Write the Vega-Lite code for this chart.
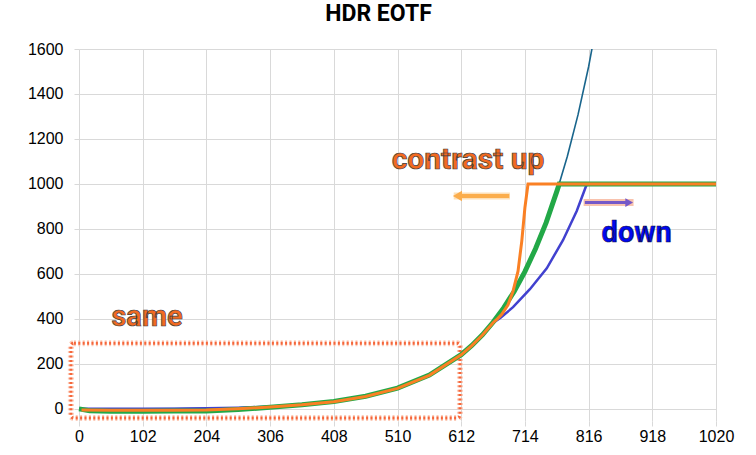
{
  "$schema": "https://vega.github.io/schema/vega-lite/v6.json",
  "width": 637,
  "height": 372,
  "autosize": {"type": "none"},
  "padding": {"left": 79, "top": 49, "right": 40, "bottom": 34},
  "background": "#ffffff",
  "title": {
    "text": "HDR EOTF",
    "font": "Roboto",
    "fontSize": 23,
    "fontWeight": "bold",
    "color": "#000000",
    "anchor": "middle",
    "frame": "group",
    "dx": -19,
    "offset": 15
  },
  "config": {
    "view": {"stroke": null},
    "axis": {
      "grid": true,
      "gridColor": "#d9d9d9",
      "gridWidth": 1,
      "tickColor": "#d9d9d9",
      "tickSize": 5,
      "domain": false,
      "labelFont": "Liberation Sans",
      "labelFontSize": 16,
      "labelColor": "#000000",
      "title": null,
      "format": "d"
    }
  },
  "datasets": {
    "teal": [
      {"x": 0, "y": 0}, {"x": 51, "y": 0}, {"x": 102, "y": 0.3}, {"x": 153, "y": 1}, {"x": 204, "y": 2.4},
      {"x": 255, "y": 5}, {"x": 306, "y": 10}, {"x": 357, "y": 18}, {"x": 408, "y": 32}, {"x": 459, "y": 55},
      {"x": 510, "y": 91}, {"x": 561, "y": 149}, {"x": 612, "y": 240}, {"x": 629, "y": 281}, {"x": 646, "y": 328},
      {"x": 663, "y": 384}, {"x": 680, "y": 448}, {"x": 697, "y": 522}, {"x": 714, "y": 609}, {"x": 731, "y": 711},
      {"x": 748, "y": 827}, {"x": 765, "y": 964}, {"x": 782, "y": 1123}, {"x": 799, "y": 1307}, {"x": 816, "y": 1521},
      {"x": 833, "y": 1774}
    ],
    "blue": [
      {"x": 0, "y": 0}, {"x": 51, "y": 0}, {"x": 102, "y": 0.3}, {"x": 153, "y": 1}, {"x": 204, "y": 2.4},
      {"x": 255, "y": 5}, {"x": 306, "y": 10}, {"x": 357, "y": 18}, {"x": 408, "y": 32}, {"x": 459, "y": 55},
      {"x": 510, "y": 91}, {"x": 561, "y": 149}, {"x": 612, "y": 240}, {"x": 629, "y": 281}, {"x": 646, "y": 328},
      {"x": 663, "y": 382}, {"x": 675, "y": 405},
      {"x": 695, "y": 452}, {"x": 722, "y": 532}, {"x": 749, "y": 625}, {"x": 775, "y": 750}, {"x": 797, "y": 880},
      {"x": 812, "y": 991}, {"x": 815, "y": 1000}, {"x": 1020, "y": 1000}
    ],
    "green": [
      {"x": 0, "y": 0}, {"x": 17, "y": -8}, {"x": 51, "y": -11}, {"x": 102, "y": -11}, {"x": 153, "y": -10},
      {"x": 204, "y": -9}, {"x": 255, "y": -3}, {"x": 306, "y": 7}, {"x": 357, "y": 18}, {"x": 408, "y": 33},
      {"x": 459, "y": 56}, {"x": 510, "y": 92}, {"x": 561, "y": 150}, {"x": 612, "y": 241}, {"x": 629, "y": 282},
      {"x": 646, "y": 329}, {"x": 663, "y": 385}, {"x": 680, "y": 449}, {"x": 697, "y": 523}, {"x": 714, "y": 610},
      {"x": 731, "y": 712}, {"x": 748, "y": 828}, {"x": 765, "y": 966}, {"x": 769, "y": 1000}, {"x": 1020, "y": 1000}
    ],
    "orange": [
      {"x": 4, "y": -5}, {"x": 51, "y": -6}, {"x": 102, "y": -6}, {"x": 153, "y": -6}, {"x": 204, "y": -5},
      {"x": 255, "y": 0}, {"x": 306, "y": 8}, {"x": 357, "y": 18}, {"x": 408, "y": 32}, {"x": 459, "y": 55},
      {"x": 510, "y": 91}, {"x": 561, "y": 149}, {"x": 612, "y": 240}, {"x": 629, "y": 281}, {"x": 646, "y": 328},
      {"x": 663, "y": 383}, {"x": 670, "y": 400}, {"x": 677, "y": 420}, {"x": 687, "y": 463}, {"x": 695, "y": 523},
      {"x": 703, "y": 612}, {"x": 709, "y": 746}, {"x": 714, "y": 894}, {"x": 719, "y": 1000}, {"x": 1020, "y": 1000}
    ],
    "one": [{"k": 1}]
  },
  "layer": [
    {
      "data": {"name": "teal"},
      "mark": {"type": "line", "color": "#19658c", "strokeWidth": 1.6, "clip": true},
      "encoding": {
        "x": {
          "field": "x",
          "type": "quantitative",
          "scale": {"domain": [0, 1020], "nice": false, "zero": false},
          "axis": {"values": [0, 102, 204, 306, 408, 510, 612, 714, 816, 918, 1020], "labelPadding": 2, "labelFlush": false}
        },
        "y": {
          "field": "y",
          "type": "quantitative",
          "scale": {"domain": [-54, 1600], "nice": false, "zero": false},
          "axis": {"values": [0, 200, 400, 600, 800, 1000, 1200, 1400, 1600], "labelPadding": 11}
        }
      }
    },
    {
      "data": {"name": "one"},
      "mark": {"type": "rect", "fill": null, "stroke": "#fbbfa8", "strokeWidth": 6, "cornerRadius": 3, "strokeDash": [2, 2.4], "opacity": 0.8},
      "encoding": {"x": {"datum": -13}, "x2": {"datum": 610}, "y": {"datum": 292}, "y2": {"datum": -41}}
    },
    {
      "data": {"name": "one"},
      "mark": {"type": "rect", "fill": null, "stroke": "#f5663a", "strokeWidth": 3, "cornerRadius": 3, "strokeDash": [2, 2.4]},
      "encoding": {"x": {"datum": -13}, "x2": {"datum": 610}, "y": {"datum": 292}, "y2": {"datum": -41}}
    },
    {
      "data": {"name": "blue"},
      "mark": {"type": "line", "color": "#4141cf", "strokeWidth": 2.5},
      "encoding": {"x": {"field": "x", "type": "quantitative"}, "y": {"field": "y", "type": "quantitative"}}
    },
    {
      "data": {"name": "green"},
      "mark": {"type": "line", "color": "#22a847", "strokeWidth": 5},
      "encoding": {"x": {"field": "x", "type": "quantitative"}, "y": {"field": "y", "type": "quantitative"}}
    },
    {
      "data": {"name": "orange"},
      "mark": {"type": "line", "color": "#fa8024", "strokeWidth": 3},
      "encoding": {"x": {"field": "x", "type": "quantitative"}, "y": {"field": "y", "type": "quantitative"}}
    },
    {
      "data": {"name": "one"},
      "mark": {"type": "rule", "color": "#fde0b8", "strokeWidth": 7},
      "encoding": {"x": {"datum": 600}, "x2": {"datum": 690}, "y": {"datum": 946}}
    },
    {
      "data": {"name": "one"},
      "mark": {"type": "rule", "color": "#fbad4c", "strokeWidth": 4},
      "encoding": {"x": {"datum": 607}, "x2": {"datum": 689}, "y": {"datum": 946}}
    },
    {
      "data": {"name": "one"},
      "mark": {"type": "point", "shape": "triangle-left", "filled": true, "color": "#fbad4c", "size": 110, "opacity": 1},
      "encoding": {"x": {"datum": 606}, "y": {"datum": 946}}
    },
    {
      "data": {"name": "one"},
      "mark": {"type": "rule", "color": "#f8c2ad", "strokeWidth": 7},
      "encoding": {"x": {"datum": 808}, "x2": {"datum": 888}, "y": {"datum": 917}}
    },
    {
      "data": {"name": "one"},
      "mark": {"type": "rule", "color": "#7458c8", "strokeWidth": 3},
      "encoding": {"x": {"datum": 810}, "x2": {"datum": 880}, "y": {"datum": 917}}
    },
    {
      "data": {"name": "one"},
      "mark": {"type": "point", "shape": "triangle-right", "filled": true, "color": "#7458c8", "size": 80, "opacity": 1},
      "encoding": {"x": {"datum": 881}, "y": {"datum": 917}}
    },
    {
      "data": {"name": "one"},
      "mark": {"type": "text", "text": "contrast up", "font": "Roboto", "fontWeight": "bold", "fontSize": 30, "color": "#f26a21", "stroke": "#3c3c3c", "strokeWidth": 0.7, "align": "center", "baseline": "alphabetic"},
      "encoding": {"x": {"datum": 623}, "y": {"datum": 1068}}
    },
    {
      "data": {"name": "one"},
      "mark": {"type": "text", "text": "down", "font": "Roboto", "fontWeight": "bold", "fontSize": 29, "color": "#0008f0", "stroke": "#101040", "strokeWidth": 0.6, "align": "center", "baseline": "alphabetic"},
      "encoding": {"x": {"datum": 893}, "y": {"datum": 741}}
    },
    {
      "data": {"name": "one"},
      "mark": {"type": "text", "text": "same", "font": "Roboto", "fontWeight": "bold", "fontSize": 29, "color": "#f26a21", "stroke": "#3c3c3c", "strokeWidth": 0.7, "align": "center", "baseline": "alphabetic"},
      "encoding": {"x": {"datum": 109}, "y": {"datum": 370}}
    }
  ]
}
